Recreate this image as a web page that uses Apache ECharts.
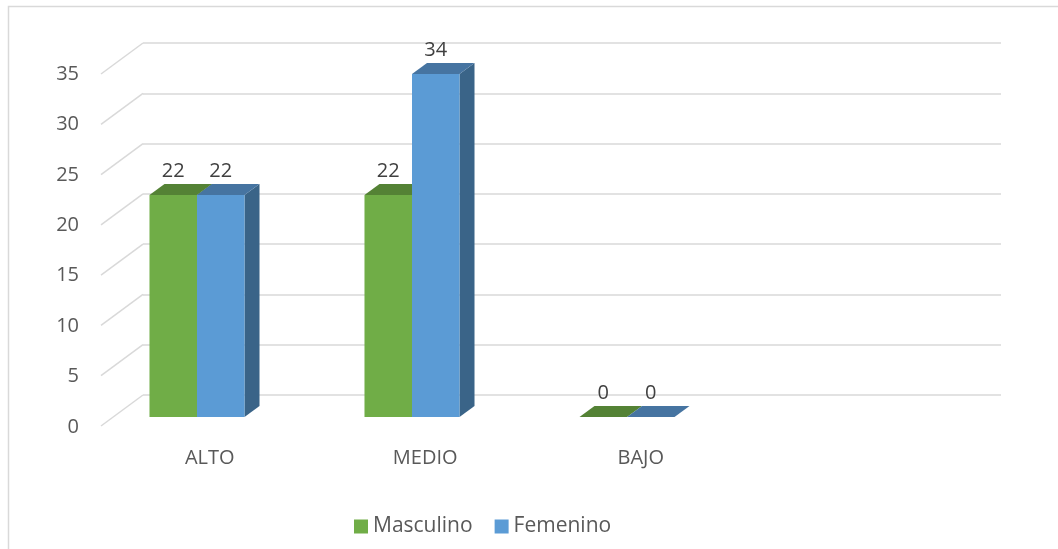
<!DOCTYPE html>
<html>
<head>
<meta charset="utf-8">
<script src="https://cdn.jsdelivr.net/npm/echarts@6/dist/echarts.min.js"></script>
<style>
    html, body { margin: 0; padding: 0; background: #fff; }
    #chart { width: 1058px; height: 549px; }
</style>
</head>
<body>
<div id="chart"></div>
<script>
// datos
const categories = ['ALTO', 'MEDIO', 'BAJO', '']
const masculino = [22, 22, 0, null]
const femenino = [22, 34, 0, null]
const yTicks = [0, 5, 10, 15, 20, 25, 30, 35]

const FONT = 'Open Sans'
const TEXT = '#595959'
const GRID = '#d9d9d9'
// desplazamiento de profundidad (3D)
const DX = 15
const DY = -11

const faces = [
    { front: '#70ad47', top: '#548235', side: '#4e7a32' },
    { front: '#5b9bd5', top: '#4674a1', side: '#3a6488' },
]

function toData(arr) {
    return arr
        .map((v, i) => (v === null ? null : [i, v]))
        .filter(d => d !== null)
}

function renderBar(params, api) {
    const ci = api.value(0)
    const v = api.value(1)
    const base = api.coord([ci, 0])
    const top = api.coord([ci, v])
    const band = api.size([1, 0])[0]
    const w = band * 0.221
    const x0 = params.seriesIndex === 1 ? base[0] - w : base[0]
    const x1 = x0 + w
    const c = faces[params.seriesIndex - 1]
    return {
        type: 'group',
        children: [
            {
                type: 'polygon',
                shape: { points: [[x1, top[1]], [x1 + DX, top[1] + DY], [x1 + DX, base[1] + DY], [x1, base[1]]] },
                style: { fill: c.side },
            },
            {
                type: 'rect',
                shape: { x: x0, y: top[1], width: w, height: base[1] - top[1] },
                style: { fill: c.front },
            },
            {
                type: 'polygon',
                shape: { points: [[x0, top[1]], [x1, top[1]], [x1 + DX, top[1] + DY], [x0 + DX, top[1] + DY]] },
                style: { fill: c.top },
            },
            {
                type: 'text',
                x: x0 + w / 2,
                y: top[1] + DY - 13,
                style: {
                    text: String(v),
                    align: 'center',
                    verticalAlign: 'middle',
                    fill: '#404040',
                    font: '20px "' + FONT + '"',
                },
            },
        ],
    }
}

function renderDiag(params, api) {
    const p = api.coord([0, api.value(0)])
    return {
        type: 'line',
        shape: { x1: p[0], y1: p[1], x2: p[0] - 42, y2: p[1] + 31 },
        style: { stroke: GRID, lineWidth: 1.5 },
    }
}

const chart = echarts.init(document.getElementById('chart'), null, { renderer: 'canvas' })

const option = {
    backgroundColor: '#fff',
    animation: false,
    textStyle: { fontFamily: FONT },
    graphic: [
        {
            type: 'rect',
            shape: { x: 8.5, y: 6.5, width: 1100, height: 600 },
            style: { fill: 'none', stroke: GRID, lineWidth: 1.5 },
            silent: true,
        },
    ],
    legend: {
        data: ['Masculino', 'Femenino'],
        left: 349,
        top: 511,
        icon: 'rect',
        itemWidth: 14,
        itemHeight: 14,
        itemGap: 22,
        textStyle: { fontSize: 21, color: TEXT, fontFamily: FONT },
    },
    grid: [
        // pared del fondo
        { left: 143, width: 858, top: 43, height: 352 },
        // barras
        { left: 89.5, width: 860, top: 64, height: 353 },
        // plano frontal (etiquetas)
        { left: 102, width: 862, top: 74, height: 353 },
    ],
    xAxis: [
        { gridIndex: 0, type: 'value', min: 0, max: 4, show: false },
        { gridIndex: 1, type: 'category', data: categories, show: false },
        {
            gridIndex: 2,
            type: 'category',
            data: categories,
            axisLine: { show: false },
            axisTick: { show: false },
            axisLabel: { color: TEXT, fontSize: 20, fontFamily: FONT, margin: 21 },
        },
    ],
    yAxis: [
        {
            gridIndex: 0,
            type: 'value',
            min: 0,
            max: 35,
            interval: 5,
            axisLine: { show: false },
            axisTick: { show: false },
            axisLabel: { show: false },
            splitLine: { show: true, lineStyle: { color: GRID, width: 1.5 } },
        },
        { gridIndex: 1, type: 'value', min: 0, max: 35, show: false },
        {
            gridIndex: 2,
            type: 'value',
            min: 0,
            max: 35,
            interval: 5,
            axisLine: { show: false },
            axisTick: { show: false },
            splitLine: { show: false },
            axisLabel: { color: TEXT, fontSize: 20, fontFamily: FONT, margin: 23 },
        },
    ],
    series: [
        {
            type: 'custom',
            name: 'diag',
            xAxisIndex: 0,
            yAxisIndex: 0,
            silent: true,
            renderItem: renderDiag,
            data: yTicks.map(v => [v]),
            encode: { y: 0 },
        },
        {
            type: 'custom',
            name: 'Masculino',
            xAxisIndex: 1,
            yAxisIndex: 1,
            itemStyle: { color: faces[0].front },
            renderItem: renderBar,
            data: toData(masculino),
            encode: { x: 0, y: 1 },
        },
        {
            type: 'custom',
            name: 'Femenino',
            xAxisIndex: 1,
            yAxisIndex: 1,
            itemStyle: { color: faces[1].front },
            renderItem: renderBar,
            data: toData(femenino),
            encode: { x: 0, y: 1 },
        },
    ],
}

chart.setOption(option, true)
</script>
</body>
</html>
